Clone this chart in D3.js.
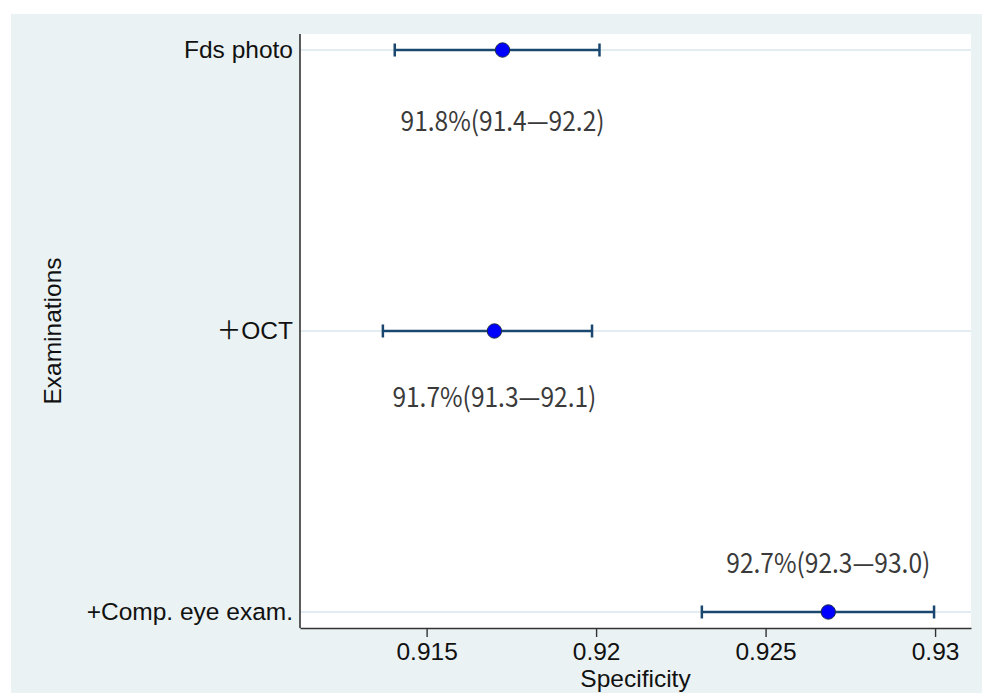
<!DOCTYPE html>
<html>
<head>
<meta charset="utf-8">
<script src="https://cdn.jsdelivr.net/npm/d3@7"></script>
<style>
  body { margin: 0; background: #ffffff; }
  svg { display: block; }
</style>
</head>
<body>
<div id="chart"></div>
<script>
// Data
const exams = ["Fds photo", "\uFF0BOCT", "+Comp. eye exam."];
const specificity = [0.91724, 0.91700, 0.92685];
const ciLow = [0.91406, 0.91371, 0.92312];
const ciHigh = [0.92010, 0.91988, 0.92997];
const estText = ["91.8%", "91.7%", "92.7%"];
const loText = ["91.4", "91.3", "92.3"];
const hiText = ["92.2", "92.1", "93.0"];
const xTicks = [0.915, 0.92, 0.925, 0.93];

const W = 982, H = 693;
const frame = { x: 11, y: 14 };
const plot = { left: 300, right: 971, top: 34, bottom: 628 };
// annotation sits below the bar for the first two rows, above for the last
const labelDy = [71, 66, -49];

const svg = d3.select("#chart").append("svg")
    .attr("width", W)
    .attr("height", H);

// Stata-style light bluish grey graph region
svg.append("rect")
    .attr("x", frame.x).attr("y", frame.y)
    .attr("width", W - frame.x).attr("height", H - frame.y)
    .attr("fill", "#eaf2f3");

svg.append("rect")
    .attr("x", plot.left).attr("y", plot.top)
    .attr("width", plot.right - plot.left).attr("height", plot.bottom - plot.top)
    .attr("fill", "#ffffff");

const x = d3.scaleLinear()
    .domain([0.911265, 0.93106])
    .range([plot.left, plot.right]);

const y = d3.scalePoint()
    .domain(exams)
    .range([plot.top, plot.bottom])
    .padding(0.057);

const rows = exams.map((name, i) => ({
    name, est: specificity[i], lo: ciLow[i], hi: ciHigh[i],
    label: `${estText[i]}(${loText[i]}\u2014${hiText[i]})`, dy: labelDy[i]
}));

// horizontal grid lines
svg.append("g").selectAll("line")
    .data(rows)
    .enter().append("line")
    .attr("x1", plot.left).attr("x2", plot.right)
    .attr("y1", d => y(d.name)).attr("y2", d => y(d.name))
    .attr("stroke", "#e3edf1")
    .attr("stroke-width", 2);

// x axis
const xAxis = svg.append("g")
    .attr("transform", `translate(0,${plot.bottom})`)
    .call(d3.axisBottom(x).tickValues(xTicks).tickFormat(d3.format("")).tickSize(9).tickSizeOuter(0));
xAxis.select(".domain").attr("stroke", "#333").attr("stroke-width", 1.6);
xAxis.selectAll(".tick line").attr("stroke", "#333").attr("stroke-width", 1.4);
xAxis.selectAll(".tick text")
    .attr("y", 15)
    .attr("dy", "0.71em")
    .attr("fill", "#111")
    .style("font-family", "'Liberation Sans', Arial, sans-serif")
    .style("font-size", "24.5px");

// y axis (no tick marks)
const yAxis = svg.append("g")
    .attr("transform", `translate(${plot.left},0)`)
    .call(d3.axisLeft(y).tickSize(0).tickPadding(7));
yAxis.select(".domain").attr("d", `M0,${plot.top}V${plot.bottom}`)
    .attr("stroke", "#333").attr("stroke-width", 1.6);
yAxis.selectAll(".tick text")
    .attr("fill", "#111")
    .style("font-family", "'Liberation Sans', Arial, sans-serif")
    .style("font-size", "24.5px");
yAxis.selectAll(".tick text").filter(d => d === "\uFF0BOCT")
    .style("font-family", "'Liberation Sans', 'Noto Sans CJK JP', sans-serif");

// axis titles
svg.append("text")
    .attr("x", (plot.left + plot.right) / 2)
    .attr("y", 687)
    .attr("text-anchor", "middle")
    .attr("fill", "#111")
    .style("font-family", "'Liberation Sans', Arial, sans-serif")
    .style("font-size", "24.5px")
    .text("Specificity");

svg.append("text")
    .attr("transform", `translate(61,${(plot.top + plot.bottom) / 2}) rotate(-90)`)
    .attr("text-anchor", "middle")
    .attr("fill", "#111")
    .style("font-family", "'Liberation Sans', Arial, sans-serif")
    .style("font-size", "24.5px")
    .text("Examinations");

// error bars
const bars = svg.append("g").selectAll("g")
    .data(rows)
    .enter().append("g")
    .attr("stroke", "#1a476f")
    .attr("stroke-width", 2.5);

bars.append("line")
    .attr("x1", d => x(d.lo)).attr("x2", d => x(d.hi))
    .attr("y1", d => y(d.name)).attr("y2", d => y(d.name));
bars.append("line")
    .attr("x1", d => x(d.lo)).attr("x2", d => x(d.lo))
    .attr("y1", d => y(d.name) - 6.5).attr("y2", d => y(d.name) + 6.5);
bars.append("line")
    .attr("x1", d => x(d.hi)).attr("x2", d => x(d.hi))
    .attr("y1", d => y(d.name) - 6.5).attr("y2", d => y(d.name) + 6.5);

// point estimates
svg.append("g").selectAll("circle")
    .data(rows)
    .enter().append("circle")
    .attr("cx", d => x(d.est))
    .attr("cy", d => y(d.name))
    .attr("r", 7.2)
    .attr("fill", "#0000ff")
    .attr("stroke", "#1a2a4a")
    .attr("stroke-width", 1);

// percentage annotations, narrow Japanese-style face squeezed to the reference width
svg.append("g").selectAll("text")
    .data(rows)
    .enter().append("text")
    .attr("x", d => x(d.est))
    .attr("y", d => y(d.name) + d.dy)
    .attr("dy", "0.36em")
    .attr("text-anchor", "middle")
    .attr("textLength", 204)
    .attr("lengthAdjust", "spacingAndGlyphs")
    .attr("fill", "#3a3a3a")
    .style("font-family", "'Noto Sans CJK JP', sans-serif")
    .style("font-size", "27px")
    .text(d => d.label);
</script>
</body>
</html>
